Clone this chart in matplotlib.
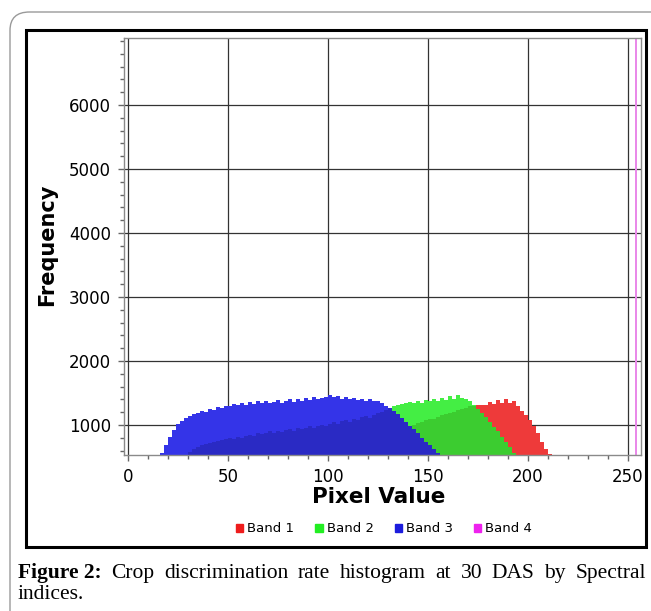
import numpy as np
import matplotlib
matplotlib.use("Agg")
import matplotlib.pyplot as plt
from matplotlib.patches import Patch, Rectangle, FancyBboxPatch

# histogram counts, bins of 2 pixel values, first bin edge given by *_start
band3_start = 16
band3 = [560, 680, 820, 920, 1010, 1060, 1110, 1140, 1170, 1190, 1220, 1210,
         1250, 1240, 1280, 1260, 1300, 1290, 1330, 1310, 1350, 1320, 1360, 1330,
         1370, 1340, 1380, 1350, 1360, 1390, 1340, 1380, 1400, 1360, 1410, 1380,
         1420, 1390, 1430, 1400, 1420, 1440, 1470, 1430, 1450, 1410, 1430, 1400,
         1420, 1390, 1410, 1380, 1400, 1370, 1380, 1340, 1300, 1270, 1220, 1170,
         1110, 1050, 990, 930, 870, 800, 740, 680, 620, 570, 520]
band2_start = 28
band2 = [530, 580, 620, 650, 680, 700, 720, 740, 750, 760, 780, 790, 780, 810,
         800, 830, 850, 830, 870, 860, 880, 900, 870, 910, 890, 920, 940, 910,
         950, 930, 960, 980, 950, 990, 1000, 980, 1020, 1040, 1010, 1060, 1080,
         1050, 1100, 1080, 1120, 1140, 1110, 1160, 1180, 1200, 1230, 1260, 1290,
         1310, 1330, 1340, 1360, 1340, 1380, 1350, 1390, 1370, 1400, 1380, 1420,
         1390, 1460, 1410, 1470, 1420, 1400, 1370, 1320, 1250, 1180, 1120, 1050,
         970, 900, 820, 740, 660, 560]
band1_start = 132
band1 = [560, 700, 820, 900, 960, 1000, 1030, 1050, 1080, 1100, 1090, 1130,
         1150, 1170, 1190, 1210, 1230, 1250, 1270, 1290, 1300, 1310, 1320, 1310,
         1360, 1330, 1390, 1350, 1400, 1340, 1370, 1300, 1220, 1150, 1080, 980,
         870, 740, 630, 540]
band4_pixel = 254
band4_count = 60000

band_names = ["Band 1", "Band 2", "Band 3", "Band 4"]
legend_colors = ["#ee1c1c", "#22ee22", "#1c1cdd", "#ee22ee"]

edges = np.arange(0, 258, 2)

def on_grid(start, vals):
    g = np.zeros(len(edges) - 1)
    i = start // 2
    g[i:i + len(vals)] = vals
    return g

b1 = on_grid(band1_start, band1)
b2 = on_grid(band2_start, band2)
b3 = on_grid(band3_start, band3)

fig = plt.figure(figsize=(6.51, 6.11), dpi=100)

# outer rounded frame and inner black box
fig.patches.append(FancyBboxPatch((10 / 651, -0.2), 1.2, 1 - 12 / 611 + 0.2,
                                  boxstyle="round,pad=0,rounding_size=0.03",
                                  transform=fig.transFigure, fill=False,
                                  edgecolor="#9a9a9a", linewidth=1.0))
fig.patches.append(Rectangle((26 / 651, 1 - 547 / 611), 620 / 651, 517 / 611,
                             transform=fig.transFigure, fill=False,
                             edgecolor="black", linewidth=2.2))

ax = fig.add_axes([124 / 651, 1 - 455 / 611, 517 / 651, 417 / 611])
ax.set_axisbelow(True)

ax.stairs(b1, edges, fill=True, color="#ee3a3a", baseline=0)
ax.stairs(b2, edges, fill=True, color="#44ee44", baseline=0)
ax.stairs(np.minimum(b2, b1), edges, fill=True, color="#3ccc30", baseline=0)
ax.stairs(b3, edges, fill=True, color="#3434e8", baseline=0)
ax.stairs(np.minimum(b3, np.maximum(b2, b1)), edges, fill=True,
          color="#2a2ac4", baseline=0)
ax.stairs([band4_count], [band4_pixel - 0.5, band4_pixel + 0.5], fill=True,
          color="#e98ae9", baseline=0)

ax.set_xlim(-2, 256.5)
ax.set_ylim(531, 7047)
ax.set_xticks([0, 50, 100, 150, 200, 250])
ax.set_xticks(np.arange(0, 251, 10), minor=True)
ax.set_yticks([1000, 2000, 3000, 4000, 5000, 6000])
ax.set_yticks(np.arange(600, 7001, 200), minor=True)
ax.grid(True, which="major", color="#333333", linewidth=0.9)
ax.tick_params(which="major", length=4.5, color="#666666", labelsize=12,
               pad=5, width=1)
ax.tick_params(which="minor", length=3, color="#666666", width=1)
for s in ax.spines.values():
    s.set_color("#8a8a8a")
    s.set_linewidth(1.0)

fig.text(47 / 651, 1 - 245 / 611, "Frequency", rotation=90, fontsize=15,
         fontweight="bold", ha="center", va="center")
fig.text(379 / 651, 1 - 497 / 611, "Pixel Value", fontsize=15.5,
         fontweight="bold", ha="center", va="center")

handles = [Patch(color=c) for c in legend_colors]
fig.legend(handles, band_names, loc="center", bbox_to_anchor=(384 / 651, 1 - 529 / 611),
           ncol=4, frameon=False, fontsize=9.5, handlelength=0.55,
           handleheight=0.55, handletextpad=0.3, columnspacing=1.6)

# caption, justified first line
serif = "Liberation Serif"
csize = 15.5
x0, x1 = 18, 646
y1 = 1 - 578 / 611
words = ["Crop", "discrimination", "rate", "histogram", "at", "30", "DAS",
         "by", "Spectral"]
head = fig.text(x0 / 651, y1, "Figure 2:", family=serif, fontweight="bold",
                fontsize=csize, va="baseline")
word_texts = [fig.text(0, y1, w, family=serif, fontsize=csize, va="baseline")
              for w in words]
fig.canvas.draw()
r = fig.canvas.get_renderer()
head_w = head.get_window_extent(r).width
widths = [t.get_window_extent(r).width for t in word_texts]
gap = (x1 - x0 - head_w - sum(widths)) / len(words)
x = x0 + head_w + gap
for t, w in zip(word_texts, widths):
    t.set_x(x / 651)
    x += w + gap
fig.text(x0 / 651, 1 - 599 / 611, "indices.", family=serif, fontsize=csize,
         va="baseline")

fig.savefig("out.png", dpi=100)
